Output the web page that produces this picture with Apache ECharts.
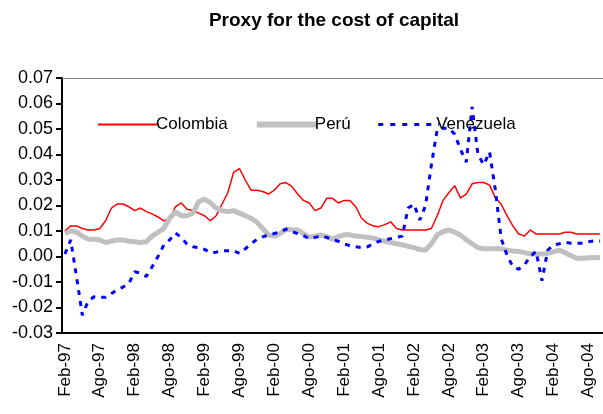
<!DOCTYPE html>
<html>
<head>
<meta charset="utf-8">
<script src="https://cdn.jsdelivr.net/npm/echarts@6/dist/echarts.min.js"></script>
<style>
  html, body { margin: 0; padding: 0; background: #fff; }
  #chart { width: 603px; height: 414px; }
</style>
</head>
<body>
<div id="chart"></div>
<script>
// meses Feb-97 .. Oct-04 (mensual)
var monthNames = ['Ene', 'Feb', 'Mar', 'Abr', 'May', 'Jun', 'Jul', 'Ago', 'Sep', 'Oct', 'Nov', 'Dic']
var startYear = 1997
var startMonth = 1   // Feb
var nMonths = 93

var categories = []
for (var k = 0; k < nMonths; k++) {
  var m = (startMonth + k) % 12
  var y = startYear + Math.floor((startMonth + k) / 12)
  categories.push(monthNames[m] + '-' + String(y).slice(2))
}

var colombia = [
  0.010, 0.012, 0.012, 0.011, 0.0104, 0.0104, 0.011, 0.014, 0.019, 0.0206,
  0.0206, 0.0195, 0.018, 0.019, 0.0176, 0.0167, 0.0155, 0.014, 0.0145, 0.0195,
  0.021, 0.0185, 0.018, 0.017, 0.016, 0.014, 0.016, 0.0205, 0.025, 0.033,
  0.0345, 0.030, 0.026, 0.026, 0.0255, 0.0245, 0.026, 0.0285, 0.029, 0.0275,
  0.0245, 0.022, 0.021, 0.018, 0.019, 0.0228, 0.0228, 0.021, 0.022, 0.022,
  0.0195, 0.015, 0.013, 0.012, 0.0117, 0.0125, 0.0136, 0.011, 0.0104, 0.0104,
  0.0104, 0.0104, 0.0104, 0.011, 0.016, 0.022, 0.025, 0.0278, 0.023, 0.0245,
  0.0285, 0.029, 0.029, 0.028, 0.023, 0.0205, 0.016, 0.012, 0.0088, 0.008,
  0.0104, 0.0088, 0.0088, 0.0088, 0.0088, 0.0088, 0.0095, 0.0095, 0.0088, 0.0088,
  0.0088, 0.0088, 0.0088
]

var peru = [
  0.009, 0.010, 0.0095, 0.008, 0.0068, 0.0068, 0.0065, 0.0055, 0.006, 0.0065,
  0.0065, 0.006, 0.0058, 0.0055, 0.0058, 0.008, 0.0095, 0.011, 0.015, 0.0175,
  0.016, 0.016, 0.017, 0.0215, 0.0225, 0.021, 0.019, 0.018, 0.0176, 0.018,
  0.017, 0.016, 0.015, 0.0135, 0.011, 0.0085, 0.008, 0.009, 0.0107, 0.0105,
  0.0104, 0.009, 0.0076, 0.008, 0.0084, 0.0078, 0.0068, 0.0078, 0.0085, 0.0085,
  0.008, 0.0078, 0.0075, 0.0072, 0.0065, 0.006, 0.0055, 0.005, 0.0046, 0.004,
  0.0035, 0.0027, 0.0025, 0.005, 0.0085, 0.0097, 0.0104, 0.0095, 0.0084, 0.0065,
  0.005, 0.0035, 0.003, 0.003, 0.003, 0.003, 0.0025, 0.0022, 0.002, 0.0015,
  0.001, 0.001, 0.001, 0.0012, 0.0018, 0.0025, 0.0015, 0.0003, -0.0007, -0.0007,
  -0.0005, -0.0005, -0.0004
]

var venezuela = [
  0.001, 0.0065, -0.008, -0.023, -0.0175, -0.0158, -0.016, -0.016, -0.0145, -0.013,
  -0.012, -0.0105, -0.006, -0.0065, -0.0078, -0.004, 0.000, 0.0045, 0.0065, 0.0092,
  0.0075, 0.0048, 0.0038, 0.0035, 0.0028, 0.0015, 0.0017, 0.0023, 0.0023, 0.0023,
  0.0012, 0.003, 0.005, 0.0067, 0.0077, 0.0085, 0.009, 0.0097, 0.0107, 0.0098,
  0.009, 0.0082, 0.007, 0.0075, 0.008, 0.0075, 0.0066, 0.006, 0.005, 0.0042,
  0.0038, 0.0035, 0.0038, 0.005, 0.006, 0.0065, 0.007, 0.0075, 0.008, 0.019,
  0.0205, 0.0143, 0.020, 0.036, 0.0498, 0.0503, 0.0503, 0.048, 0.042, 0.037,
  0.0587, 0.040, 0.036, 0.041, 0.026, 0.007, 0.0005, -0.004, -0.005, -0.0033,
  0.000, 0.002, -0.0095, 0.0025, 0.0045, 0.005, 0.0056, 0.0052, 0.0052, 0.0052,
  0.0058, 0.0061, 0.0061
]

var font = "'Liberation Sans', Arial, sans-serif"

var myChart = echarts.init(document.getElementById('chart'), null, { renderer: 'canvas' })

var option = {
  backgroundColor: '#fff',
  animation: false,
  title: {
    text: 'Proxy for the cost of capital',
    left: 329,
    textAlign: 'center',
    top: 6,
    textStyle: { fontFamily: font, fontSize: 19, fontWeight: 'bold', color: '#000' }
  },
  legend: {
    left: 92,
    top: 111,
    itemWidth: 61,
    itemHeight: 14,
    itemGap: 26,
    itemStyle: { opacity: 0 },
    textStyle: { fontFamily: font, fontSize: 17, color: '#000', padding: [0, 0, 0, -8] },
    data: [
      { name: 'Colombia' },
      { name: 'Perú', lineStyle: { width: 6 } },
      { name: 'Venezuela', lineStyle: { width: 3, type: [5, 7] } }
    ]
  },
  grid: {
    left: 62,
    right: 0,
    top: 78,
    bottom: 81,
    containLabel: false,
    outerBoundsMode: 'none'
  },
  xAxis: [{
    type: 'category',
    data: categories,
    boundaryGap: true,
    axisLine: { onZero: false, lineStyle: { color: '#000', width: 2 } },
    axisTick: { interval: 5, length: 6, lineStyle: { color: '#000', width: 2 } },
    axisLabel: {
      interval: 5,
      rotate: 90,
      margin: 10,
      fontFamily: font,
      fontSize: 17,
      color: '#000'
    },
    splitLine: { show: false }
  }, {
    // borde superior del área de trazado
    type: 'category',
    data: categories,
    position: 'top',
    axisLine: { onZero: false, lineStyle: { color: '#808080', width: 1 } },
    axisTick: { show: false },
    axisLabel: { show: false }
  }],
  yAxis: {
    type: 'value',
    min: -0.03,
    max: 0.07,
    interval: 0.01,
    axisLine: { show: true, lineStyle: { color: '#000', width: 2 } },
    axisTick: { show: true, length: 6, lineStyle: { color: '#000', width: 2 } },
    axisLabel: {
      margin: 9,
      fontFamily: font,
      fontSize: 18,
      color: '#000',
      formatter: function (v) { return v.toFixed(2) }
    },
    splitLine: { show: false }
  },
  series: [{
    name: 'Colombia',
    type: 'line',
    data: colombia,
    symbol: 'none',
    color: '#ff0000',
    lineStyle: { color: '#ff0000', width: 1.5 }
  }, {
    name: 'Perú',
    type: 'line',
    data: peru,
    symbol: 'none',
    color: '#c0c0c0',
    lineStyle: { color: '#c0c0c0', width: 5 }
  }, {
    name: 'Venezuela',
    type: 'line',
    data: venezuela,
    symbol: 'none',
    color: '#0000ff',
    lineStyle: { color: '#0000ff', width: 3, type: [5, 6] }
  }]
}

myChart.setOption(option)
</script>
</body>
</html>
